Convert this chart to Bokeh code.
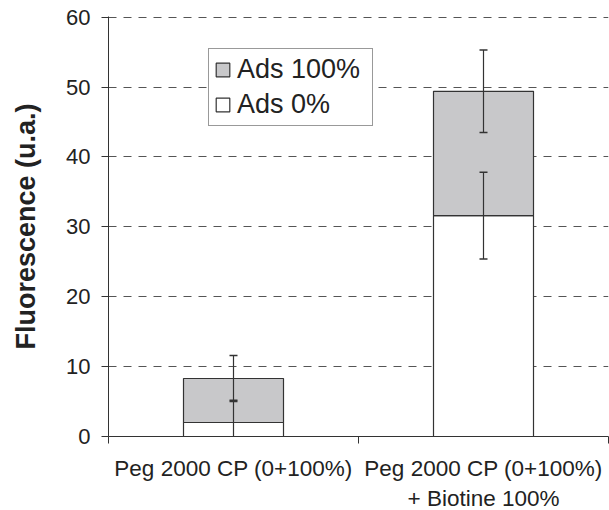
from bokeh.plotting import figure
from bokeh.models import (ColumnDataSource, Range1d, FixedTicker, Whisker, TeeHead,
                          Legend, LegendItem, LinearAxis, Grid)
from bokeh.embed import file_html
from bokeh.resources import INLINE

categories = ["Peg 2000 CP (0+100%)", "Peg 2000 CP (0+100%)\n+ Biotine 100%"]
ads0 = [2.0, 31.6]
ads100 = [6.3, 17.8]
ads0_err = [3.2, 6.2]
ads100_err = [3.3, 5.9]
y_ticks = [0, 10, 20, 30, 40, 50, 60]

xs = [i + 0.5 for i in range(len(categories))]
tops0 = ads0
tops100 = [a + b for a, b in zip(ads0, ads100)]

src = ColumnDataSource(dict(
    x=xs, b0=[0] * len(xs), t0=tops0, t1=tops100,
    lo0=[t - e for t, e in zip(tops0, ads0_err)],
    hi0=[t + e for t, e in zip(tops0, ads0_err)],
    lo1=[t - e for t, e in zip(tops100, ads100_err)],
    hi1=[t + e for t, e in zip(tops100, ads100_err)],
))

FONT = "Liberation Sans"
TXT = "#222222"
LINE = "#333333"

p = figure(frame_width=500, frame_height=420, output_backend="svg", toolbar_location=None,
           x_range=Range1d(0, len(categories)), y_range=Range1d(0, 60.1),
           min_border_left=108, min_border_right=1, min_border_top=16, min_border_bottom=60,
           x_axis_type=None, y_axis_type=None)
p.outline_line_color = None
p.background_fill_color = "white"
p.border_fill_color = "white"

# axes
yax = LinearAxis(ticker=FixedTicker(ticks=y_ticks))
yax.axis_label = "Fluorescence (u.a.)"
yax.axis_label_text_font = FONT
yax.axis_label_text_font_style = "bold"
yax.axis_label_text_font_size = "27px"
yax.axis_label_text_color = TXT
yax.axis_label_standoff = 22
yax.major_label_text_font = FONT
yax.major_label_text_font_size = "22px"
yax.major_label_text_color = TXT
yax.major_tick_in = 0
yax.major_tick_out = 7
yax.minor_tick_out = 0
yax.minor_tick_in = 0
yax.major_label_standoff = 11
yax.axis_line_color = LINE
yax.major_tick_line_color = LINE
p.add_layout(yax, "left")

xax = LinearAxis(ticker=FixedTicker(ticks=xs, minor_ticks=[0, 1, 2]))
xax.major_label_overrides = {x: c for x, c in zip(xs, categories)}
xax.major_label_text_font = FONT
xax.major_label_text_font_size = "22.5px"
xax.major_label_text_color = TXT
xax.major_tick_in = 0
xax.major_tick_out = 0
xax.minor_tick_in = 0
xax.minor_tick_out = 7
xax.minor_tick_line_color = LINE
xax.major_label_standoff = 12
xax.axis_line_color = LINE
p.add_layout(xax, "below")

grid = Grid(dimension=1, ticker=FixedTicker(ticks=y_ticks[1:]),
            grid_line_color="#555555", grid_line_dash="8 7", grid_line_width=1)
p.add_layout(grid)

r0 = p.vbar(x="x", bottom="b0", top="t0", width=0.4, source=src,
            fill_color="white", line_color=LINE, line_width=1.2)
r1 = p.vbar(x="x", bottom="t0", top="t1", width=0.4, source=src,
            fill_color="#C8C8CA", line_color=LINE, line_width=1.2)

for lo, hi in (("lo0", "hi0"), ("lo1", "hi1")):
    w = Whisker(source=src, base="x", lower=lo, upper=hi, dimension="height",
                level="overlay", line_color=LINE, line_width=1.2,
                upper_head=TeeHead(size=8, line_color=LINE, line_width=1.5),
                lower_head=TeeHead(size=8, line_color=LINE, line_width=1.5))
    p.add_layout(w)

legend = Legend(items=[LegendItem(label="Ads 100%", renderers=[r1]),
                       LegendItem(label="Ads 0%", renderers=[r0])],
                location=(100, 310))
legend.label_text_font = FONT
legend.label_text_font_size = "27px"
legend.label_text_color = TXT
legend.glyph_width = 17
legend.glyph_height = 17
legend.label_standoff = 6
legend.label_height = 28
legend.label_width = 130
legend.spacing = 4
legend.padding = 5
legend.margin = 0
legend.border_line_color = LINE
legend.border_line_width = 1
legend.background_fill_alpha = 1
p.add_layout(legend)

open("out.html", "w").write(file_html(p, INLINE))
